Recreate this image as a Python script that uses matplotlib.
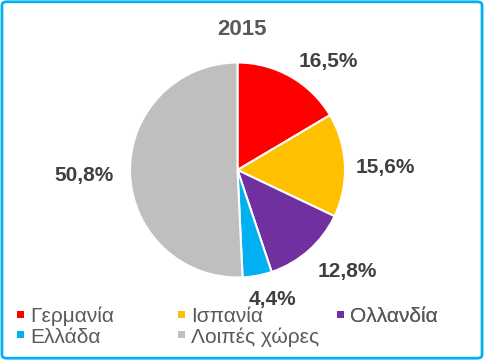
import matplotlib.pyplot as plt
from matplotlib.patches import FancyBboxPatch, Patch
import numpy as np

plt.rcParams['font.family'] = ['Liberation Sans', 'DejaVu Sans']

countries = ['Γερμανία', 'Ισπανία', 'Ολλανδία', 'Ελλάδα', 'Λοιπές χώρες']
shares = [16.5, 15.6, 12.8, 4.4, 50.8]
colors = ['#FF0000', '#FFC000', '#7030A0', '#00B0F0', '#BFBFBF']

# label centres in pixels from top-left
label_xy = [(328, 62), (385, 168), (347, 272), (272, 300), (84, 175)]

fig = plt.figure(figsize=(4.84, 3.6), dpi=100)
ax = fig.add_axes([0, 0, 1, 1])

cx, cy, r = 237.5, 190, 107.5
wedges, _ = ax.pie(shares, colors=colors, startangle=90, counterclock=False,
                   center=(cx, cy), radius=r, frame=True,
                   wedgeprops=dict(edgecolor='white', linewidth=1.5))
ax.set_xlim(0, 484)
ax.set_ylim(0, 360)
ax.axis('off')

for (x, y), v in zip(label_xy, shares):
    ax.text(x, 360 - y, ('%.1f%%' % v).replace('.', ','), ha='center',
            va='center', fontsize=15, fontweight='bold', color='#404040')

ax.text(241.5, 360 - 29.5, '2015', ha='center', va='center', fontsize=16,
        fontweight='bold', color='#595959')

# legend, laid out in three fixed-width columns
cols = [[0, 3], [1, 4], [2]]
col_x = [17, 178, 337]
for idx, x in zip(cols, col_x):
    handles = [Patch(facecolor=colors[i], edgecolor='none') for i in idx]
    leg = ax.legend(handles, [countries[i] for i in idx], loc='upper left',
                    bbox_to_anchor=(x / 484, 1 - 307 / 360),
                    bbox_transform=fig.transFigure, frameon=False,
                    fontsize=15, labelcolor='#595959', handlelength=0.34,
                    handleheight=0.14, handletextpad=0.29, labelspacing=0.05,
                    borderpad=0, borderaxespad=0)
    ax.add_artist(leg)

fig.patches.append(FancyBboxPatch((0.004, 0.005), 0.992, 0.99,
                                  boxstyle='round,pad=0,rounding_size=0.01',
                                  transform=fig.transFigure, fill=False,
                                  edgecolor='#00B0F0', linewidth=2))

fig.savefig('out.png', dpi=100)
